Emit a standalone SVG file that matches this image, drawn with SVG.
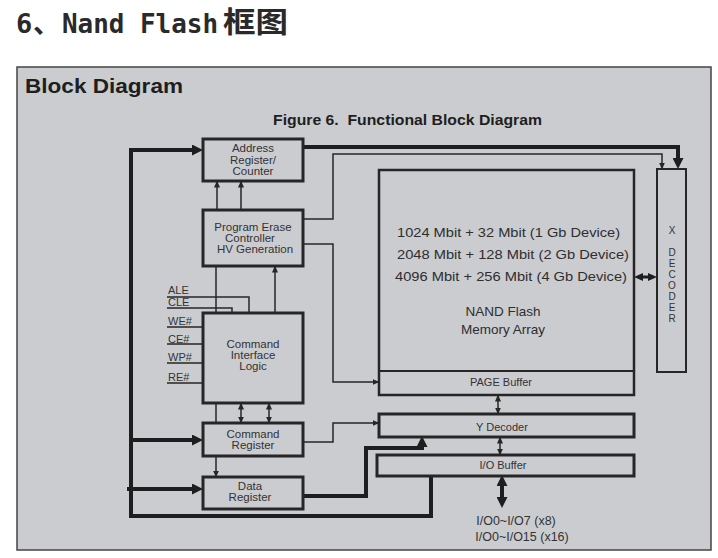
<svg xmlns="http://www.w3.org/2000/svg" width="718" height="558" viewBox="0 0 718 558">
<style>
.box{fill:none;stroke:#262626;stroke-width:3}
.thin{fill:none;stroke:#262626;stroke-width:1.5}
.thick{fill:none;stroke:#1e1e1e;stroke-width:4}
.lbl{font-family:"Liberation Sans",Arial,sans-serif;font-size:11.5px;fill:#333;text-anchor:middle}
.sig{font-family:"Liberation Sans",Arial,sans-serif;font-size:11px;fill:#333}
.mem{font-family:"Liberation Sans",Arial,sans-serif;font-size:13.5px;fill:#2e2e2e}
.xd{font-family:"Liberation Sans",Arial,sans-serif;font-size:10px;fill:#333;text-anchor:middle}
</style>
<defs>
<marker id="s" markerUnits="userSpaceOnUse" markerWidth="7" markerHeight="6" viewBox="0 0 7 6" refX="6.5" refY="3" orient="auto-start-reverse"><path d="M0,0 L7,3 L0,6 z" fill="#262626"/></marker>
<marker id="t" markerUnits="userSpaceOnUse" markerWidth="11" markerHeight="11" viewBox="0 0 11 11" refX="2" refY="5.5" orient="auto-start-reverse"><path d="M0,0 L11,5.5 L0,11 z" fill="#1e1e1e"/></marker>
<marker id="m" markerUnits="userSpaceOnUse" markerWidth="9" markerHeight="8" viewBox="0 0 9 8" refX="2" refY="4" orient="auto-start-reverse"><path d="M0,0 L9,4 L0,8 z" fill="#1e1e1e"/></marker>
</defs>
<rect x="0" y="0" width="718" height="558" fill="#ffffff"/>
<text x="17" y="33" font-family="'DejaVu Sans Mono','Noto Sans CJK SC',monospace" font-weight="bold" font-size="27" fill="#2a2a2a"><tspan x="16">6</tspan><tspan x="33" font-family="'Noto Sans CJK SC',sans-serif">、</tspan><tspan x="62" textLength="156" lengthAdjust="spacingAndGlyphs">Nand Flash</tspan><tspan x="223" font-family="'Noto Sans CJK SC',sans-serif" font-size="29" textLength="65" lengthAdjust="spacingAndGlyphs">框图</tspan></text>
<rect x="17" y="67" width="694" height="483" fill="#cbccd0" stroke="#444" stroke-width="1.5"/>
<text x="25" y="93" font-family="'Liberation Sans',Arial,sans-serif" font-weight="bold" font-size="21" fill="#1e1e1e" textLength="158" lengthAdjust="spacingAndGlyphs">Block Diagram</text>
<text x="273" y="125" font-family="'Liberation Sans',Arial,sans-serif" font-weight="bold" font-size="15" fill="#1e1e1e" textLength="269" lengthAdjust="spacingAndGlyphs" xml:space="preserve">Figure 6.  Functional Block Diagram</text>

<g id="connectors">
<path class="thick" d="M431,476 V516 H131 V150 H194" marker-end="url(#t)"/>
<path class="thick" d="M131,440 H194" marker-end="url(#t)"/>
<path class="thick" d="M127,489 H194" marker-end="url(#t)"/>
<path class="thick" d="M303,147 H678 V160" marker-end="url(#t)"/>
<path class="thin" d="M303,219 H333 V154 H662 V169" marker-end="url(#s)"/>
<path class="thin" d="M303,244 H333 V382 H379" marker-end="url(#s)"/>
<path class="thin" d="M217,210 V181" marker-end="url(#s)"/>
<path class="thin" d="M241,210 V181" marker-end="url(#s)"/>
<path class="thin" d="M216,266 V313"/>
<path class="thin" d="M275,313 V266" marker-end="url(#s)"/>
<path class="thin" d="M167,297 H249 V313"/>
<path class="thin" d="M167,308 H232 V313"/>
<path class="thin" d="M167,327 H203"/>
<path class="thin" d="M167,344 H203"/>
<path class="thin" d="M167,363 H203"/>
<path class="thin" d="M167,383 H203"/>
<path class="thin" d="M216,403 V423"/>
<path class="thin" d="M241,403 V423" marker-start="url(#s)" marker-end="url(#s)"/>
<path class="thin" d="M269,403 V423" marker-start="url(#s)" marker-end="url(#s)"/>
<path class="thin" d="M216,456 V477" marker-end="url(#s)"/>
<path class="thin" d="M303,442 H333 V423 H379" marker-end="url(#s)"/>
<path class="thick" d="M303,496 H366 V448 H422 V445" marker-end="url(#t)"/>
<path class="thin" d="M498,395 V414" marker-start="url(#s)" marker-end="url(#s)"/>
<path class="thin" d="M500,437 V455" marker-start="url(#s)" marker-end="url(#s)"/>
<path class="thick" d="M502,484 V499" marker-start="url(#t)" marker-end="url(#t)"/>
<path class="thick" style="stroke-width:3" d="M641,277 H650" marker-start="url(#m)" marker-end="url(#m)"/>
</g>

<g id="address-register">
<rect class="box" x="203" y="139" width="100" height="42"/>
<text class="lbl" x="253" y="152">Address</text>
<text class="lbl" x="253" y="164">Register/</text>
<text class="lbl" x="253" y="175">Counter</text>
</g>
<g id="program-erase">
<rect class="box" x="203" y="210" width="100" height="56"/>
<text class="lbl" x="253" y="231">Program Erase</text>
<text class="lbl" x="250" y="242">Controller</text>
<text class="lbl" x="255" y="253">HV Generation</text>
</g>
<g id="command-interface">
<rect class="box" x="203" y="313" width="100" height="90"/>
<text class="lbl" x="253" y="348">Command</text>
<text class="lbl" x="253" y="359">Interface</text>
<text class="lbl" x="253" y="370">Logic</text>
</g>
<g id="signals">
<text class="sig" x="168" y="294">ALE</text>
<text class="sig" x="168" y="306">CLE</text>
<text class="sig" x="168" y="325">WE#</text>
<text class="sig" x="168" y="343">CE#</text>
<text class="sig" x="168" y="361">WP#</text>
<text class="sig" x="168" y="381">RE#</text>
</g>
<g id="command-register">
<rect class="box" x="203" y="423" width="100" height="33"/>
<text class="lbl" x="253" y="438">Command</text>
<text class="lbl" x="253" y="449">Register</text>
</g>
<g id="data-register">
<rect class="box" x="203" y="477" width="100" height="32"/>
<text class="lbl" x="250" y="490">Data</text>
<text class="lbl" x="250" y="501">Register</text>
</g>
<g id="memory-array">
<rect class="box" style="stroke-width:2.5" x="379" y="170" width="255" height="225"/>
<line class="thin" style="stroke-width:2" x1="379" y1="371" x2="634" y2="371"/>
<text class="mem" x="397" y="237" textLength="223" lengthAdjust="spacingAndGlyphs">1024 Mbit + 32 Mbit (1 Gb Device)</text>
<text class="mem" x="397" y="259" textLength="232" lengthAdjust="spacingAndGlyphs">2048 Mbit + 128 Mbit (2 Gb Device)</text>
<text class="mem" x="395" y="281" textLength="232" lengthAdjust="spacingAndGlyphs">4096 Mbit + 256 Mbit (4 Gb Device)</text>
<text class="mem" x="503" y="316" text-anchor="middle">NAND Flash</text>
<text class="mem" x="503" y="334" text-anchor="middle">Memory Array</text>
<text class="lbl" x="501" y="386" style="font-size:11px">PAGE Buffer</text>
</g>
<g id="y-decoder">
<rect class="box" x="379" y="414" width="255" height="23"/>
<text class="lbl" x="502" y="431" style="font-size:11px">Y Decoder</text>
</g>
<g id="io-buffer">
<rect class="box" x="377" y="455" width="257" height="21"/>
<text class="lbl" x="503" y="469" style="font-size:11px">I/O Buffer</text>
</g>
<g id="io-label">
<text class="lbl" x="516" y="525" style="font-size:12.5px">I/O0~I/O7 (x8)</text>
<text class="lbl" x="522" y="541" style="font-size:12.5px">I/O0~I/O15 (x16)</text>
</g>
<g id="x-decoder">
<rect class="box" style="stroke-width:2" x="657" y="169" width="29" height="203"/>
<text class="xd" x="672" y="234">X</text>
<text class="xd" x="672" y="256">D</text>
<text class="xd" x="672" y="267">E</text>
<text class="xd" x="672" y="278">C</text>
<text class="xd" x="672" y="289">O</text>
<text class="xd" x="672" y="300">D</text>
<text class="xd" x="672" y="311">E</text>
<text class="xd" x="672" y="322">R</text>
</g>
</svg>
